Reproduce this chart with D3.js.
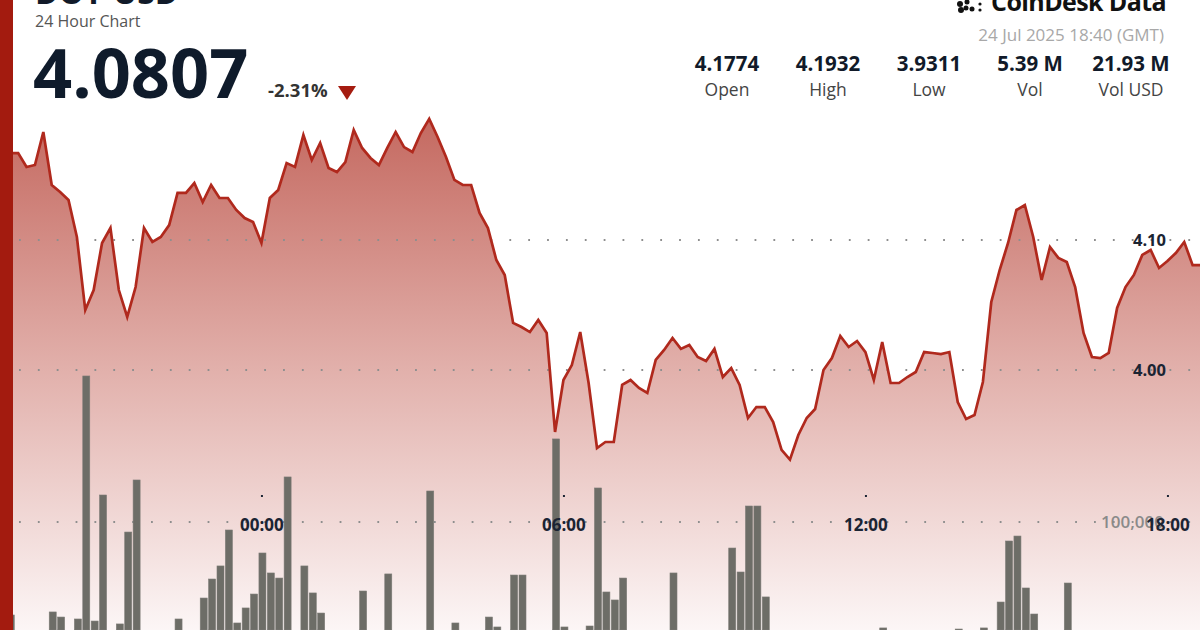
<!DOCTYPE html>
<html><head><meta charset="utf-8">
<script src="https://cdn.jsdelivr.net/npm/d3@7"></script>
<style>
html,body{margin:0;padding:0;background:#fff;}
svg{display:block;font-family:"Open Sans","Noto Sans",sans-serif;}
</style></head><body>
<svg id="c" width="1200" height="630"></svg>
<script>
const symbol = "DOT-USD";
const subtitle = "24 Hour Chart";
const lastPrice = "4.0807";
const changePct = "-2.31%";
const statLabels = ["Open", "High", "Low", "Vol", "Vol USD"];
const statValues = ["4.1774", "4.1932", "3.9311", "5.39 M", "21.93 M"];
const timestampText = "24 Jul 2025 18:40 (GMT)";
const brand = "CoinDesk Data";
const startTime = Date.UTC(2025, 6, 23, 18, 40);
const stepMinutes = 10;

const prices = [
  4.1774, 4.1692, 4.1669, 4.1669, 4.1562, 4.1577, 4.1831, 4.1423, 4.1369, 4.1308,
  4.1023, 4.0462, 4.0615, 4.0977, 4.1092, 4.0615, 4.0408, 4.0638, 4.1092, 4.0985,
  4.1023, 4.1115, 4.1362, 4.1362, 4.1438, 4.1292, 4.1423, 4.1323, 4.1323, 4.1231,
  4.1169, 4.1138, 4.0977, 4.1323, 4.1385, 4.1592, 4.1562, 4.1808, 4.1615, 4.1746,
  4.1554, 4.1523, 4.1600, 4.1846, 4.1708, 4.1631, 4.1577, 4.1708, 4.1831, 4.1715,
  4.1677, 4.1823, 4.1932, 4.1792, 4.1638, 4.1462, 4.1423, 4.1423, 4.1208, 4.1092,
  4.0846, 4.0731, 4.0362, 4.0331, 4.0292, 4.0385, 4.0285, 3.9523, 3.9923, 4.0038,
  4.0292, 3.9900, 3.9400, 3.9446, 3.9446, 3.9885, 3.9923, 3.9862, 3.9823, 4.0077,
  4.0154, 4.0246, 4.0162, 4.0192, 4.0100, 4.0069, 4.0162, 3.9946, 4.0015, 3.9885,
  3.9631, 3.9715, 3.9715, 3.9600, 3.9385, 3.9311, 3.9500, 3.9631, 3.9700, 4.0000,
  4.0092, 4.0262, 4.0177, 4.0223, 4.0138, 3.9923, 4.0215, 3.9900, 3.9900, 3.9946,
  3.9985, 4.0138, 4.0131, 4.0123, 4.0138, 3.9754, 3.9623, 3.9654, 3.9908, 4.0523,
  4.0769, 4.0977, 4.1231, 4.1269, 4.1023, 4.0692, 4.0946, 4.0862, 4.0831, 4.0638,
  4.0285, 4.0100, 4.0092, 4.0131, 4.0477, 4.0638, 4.0731, 4.0885, 4.0923, 4.0785,
  4.0838, 4.0900, 4.0985, 4.0807, 4.0807
];

const volumes = [
  0, 0, 13900, 0, 0, 0, 0, 16700, 12000, 0,
  10200, 235200, 8300, 125000, 0, 5600, 90700, 138900, 0, 0,
  0, 0, 10200, 0, 0, 29600, 47200, 59300, 92600, 6500,
  20400, 33300, 71300, 52800, 48100, 141700, 0, 59300, 34300, 15700,
  0, 0, 0, 0, 36100, 0, 0, 51900, 0, 0,
  0, 0, 128700, 0, 0, 6500, 0, 0, 0, 12000,
  2800, 0, 50900, 50900, 0, 0, 0, 176900, 2800, 0,
  0, 3700, 131500, 35200, 27800, 48100, 0, 0, 0, 0,
  0, 52800, 0, 0, 0, 0, 0, 0, 75900, 53700,
  114800, 114800, 30600, 0, 0, 0, 0, 0, 0, 0,
  0, 0, 0, 0, 0, 0, 1900, 0, 0, 0,
  0, 0, 0, 0, 0, 900, 0, 0, 1900, 0,
  25900, 82400, 87000, 38900, 14800, 0, 0, 0, 43500, 0,
  0, 0, 0, 0, 0, 0, 0, 0, 0, 0,
  0, 0, 0, 0, 0
];

const priceTicks = [4.00, 4.10];
const volumeTicks = [100000];

const W = 1200, H = 630;
const svg = d3.select("#c");
const times = prices.map((_, i) => new Date(startTime + i * stepMinutes * 60000));
const data = times.map((t, i) => ({ t, p: prices[i], v: volumes[i] }));

const x = d3.scaleUtc().domain([times[0], times[times.length - 1]]).range([-7, 1201]);
const y = d3.scaleLinear().domain([4.00, 4.10]).range([370, 240]);
const yv = d3.scaleLinear().domain([0, 100000]).range([630, 522]);

const defs = svg.append("defs");
const grad = defs.append("linearGradient").attr("id", "ag")
  .attr("gradientUnits", "userSpaceOnUse").attr("x1", 0).attr("x2", 0).attr("y1", 115).attr("y2", 630);
grad.append("stop").attr("offset", 0).attr("stop-color", "#c4685f");
grad.append("stop").attr("offset", 0.5).attr("stop-color", "#e2b1ac");
grad.append("stop").attr("offset", 1).attr("stop-color", "#fcf6f6");

// area
const area = d3.area().x(d => x(d.t)).y0(H).y1(d => y(d.p)).curve(d3.curveLinear);
svg.append("path").datum(data).attr("d", area).attr("fill", "url(#ag)");

// gridlines
const gridYs = priceTicks.map(v => y(v)).concat(volumeTicks.map(v => yv(v)));
svg.append("g").selectAll("line").data(gridYs).join("line")
  .attr("x1", 19).attr("x2", W).attr("y1", d => d).attr("y2", d => d)
  .attr("stroke", "#8e8e8e").attr("stroke-width", 1.8)
  .attr("stroke-dasharray", "1.8 17.06");

// volume bars
svg.append("g").selectAll("rect").data(data.filter(d => d.v > 0)).join("rect")
  .attr("x", d => x(d.t) - 2.5).attr("width", 7)
  .attr("y", d => yv(d.v)).attr("height", d => yv(0) - yv(d.v))
  .attr("fill", "#6d6d67").attr("stroke", "#7c7b76").attr("stroke-width", 0.6);

// price line
const line = d3.line().x(d => x(d.t)).y(d => y(d.p)).curve(d3.curveLinear);
svg.append("path").datum(data).attr("d", line)
  .attr("fill", "none").attr("stroke", "#b0291d").attr("stroke-width", 2.7)
  .attr("stroke-linejoin", "miter");

// price axis labels
svg.append("g").selectAll("text").data(priceTicks).join("text")
  .attr("x", 1166).attr("y", d => y(d)).attr("dy", "0.36em")
  .attr("text-anchor", "end").attr("font-size", 16.5).attr("font-weight", 700)
  .attr("fill", "#1b2433").text(d3.format(".2f"));

// volume axis label
svg.append("g").selectAll("text").data(volumeTicks).join("text")
  .attr("x", 1164).attr("y", d => yv(d)).attr("dy", "0.36em")
  .attr("text-anchor", "end").attr("font-size", 17).attr("font-weight", 600)
  .attr("fill", "#8a8a8a").text(d3.format(","));

// time axis
const xAxis = d3.axisBottom(x).ticks(d3.utcHour.every(6)).tickFormat(d3.utcFormat("%H:%M")).tickSize(2).tickPadding(0);
const gx = svg.append("g").attr("transform", "translate(0,495)").call(xAxis);
gx.select(".domain").remove();
gx.selectAll(".tick line").attr("stroke", "#1b2433").attr("stroke-width", 2);
gx.selectAll(".tick text").attr("y", 30).attr("dy", "0.36em")
  .attr("font-size", 17).attr("font-weight", 700).attr("fill", "#1b2433")
  .attr("font-family", "'Open Sans','Noto Sans',sans-serif");

// header left
svg.append("text").attr("x", 35).attr("y", 4).attr("font-size", 32).attr("font-weight", 700)
  .attr("fill", "#111a29").text(symbol);
svg.append("text").attr("x", 35).attr("y", 27).attr("font-size", 16)
  .attr("fill", "#555").text(subtitle);
svg.append("text").attr("x", 33).attr("y", 98).attr("font-size", 68.5).attr("font-weight", 700)
  .attr("fill", "#0f1b2b").text(lastPrice);
svg.append("text").attr("x", 268).attr("y", 97).attr("font-size", 18.5).attr("font-weight", 700)
  .attr("fill", "#333").text(changePct);
svg.append("path").attr("d", "M338,86 L356,86 L347,100 Z").attr("fill", "#a51c10");

// header right
const statX = [727, 828, 929, 1030, 1131];
svg.append("g").selectAll("text").data(statValues).join("text")
  .attr("x", (d, i) => statX[i]).attr("y", 71).attr("text-anchor", "middle")
  .attr("font-size", 20.5).attr("font-weight", 700).attr("fill", "#111a29").text(d => d);
svg.append("g").selectAll("text").data(statLabels).join("text")
  .attr("x", (d, i) => statX[i]).attr("y", 96).attr("text-anchor", "middle")
  .attr("font-size", 17.5).attr("fill", "#444").text(d => d);
svg.append("text").attr("x", 1164).attr("y", 41).attr("text-anchor", "end")
  .attr("font-size", 17).attr("fill", "#a8a8a8").text(timestampText);
svg.append("text").attr("x", 1166).attr("y", 11).attr("text-anchor", "end")
  .attr("font-size", 25).attr("font-weight", 700).attr("fill", "#111").attr("letter-spacing", -0.6).text(brand);
const logo = svg.append("g").attr("fill", "#111");
[[960, 4, 3], [966, 8, 2.5], [961, 10, 3], [972, 9, 2.5], [980, 4, 1.6], [980, 10, 1.6], [967, 2, 2.5]].forEach(c =>
  logo.append("circle").attr("cx", c[0]).attr("cy", c[1]).attr("r", c[2]));

// left accent bar
svg.append("rect").attr("x", 0).attr("y", 0).attr("width", 13).attr("height", H).attr("fill", "#a31b0f");
</script>
</body></html>
